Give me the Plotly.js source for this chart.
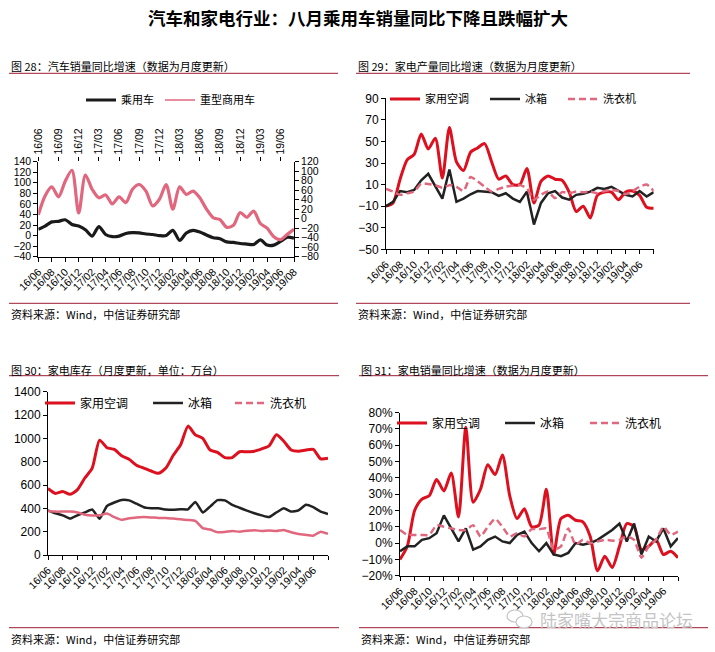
<!DOCTYPE html>
<html><head><meta charset="utf-8">
<script src="https://cdn.plot.ly/plotly-3.0.1.min.js"></script>
<style>html,body{margin:0;padding:0;background:#fff}#chart{width:715px;height:652px}</style>
</head><body><div id="chart"></div>
<script>
// ---------- data ----------
const months = ['16/06','16/07','16/08','16/09','16/10','16/11','16/12',
 '17/01','17/02','17/03','17/04','17/05','17/06','17/07','17/08','17/09','17/10','17/11','17/12',
 '18/01','18/02','18/03','18/04','18/05','18/06','18/07','18/08','18/09','18/10','18/11','18/12',
 '19/01','19/02','19/03','19/04','19/05','19/06','19/07','19/08'];

// Fig 28: auto sales yoy (%)
const passengerCar = [12,18,26,27,30,21,18,11,-1,17,2,-2,-1,4,5.5,5,3,2,0,0,10,-9,5,10,7,1,-4,-6,-12,-13,-15,-16,-17,-8,-18,-18,-11,-3,-5];
const heavyTruck   = [8,48,67,46,79,102,12,92,62,44,50,31,46,34,62,72,58,27,41,72,20,67,51,58,44,20,2,-2,-18,-14,13,3,16,-10,-20,-38,-44,-33,-22];

// Fig 29: appliance output yoy (%)
const acOutput     = [-10,-7,15,33,38,57,43,53,16,63,31,23,40,44,48,31,15,18,10,10,25,-7,13,18,15,14,3,-15,-10,-21,0,3,3,-4,3,4,0,-11,-12];
const fridgeOutput = [-10,-6,4,3,5,14,20,8,-3,24,-6,-3,1,4,3.5,3,-0.5,2,-3,-6,3.5,-27,-7,2,4,-2,-4,0.5,1.5,3.5,7,6,8,4,0.5,-1,4,-1,3];
const washerOutput = [6,3.5,0.5,2,3.5,11,10.5,9.5,7,9.5,8,4,17,13,8,3.5,6,8,9,9.5,6.5,-4,0.5,3.5,-2.5,3,2,3.5,3,3.5,2,4,5,4,1,4,8,10,4];

// Fig 30: appliance inventory (10k units)
const acStock      = [570,528,545,520,560,660,745,985,920,905,850,820,770,745,720,700,745,855,945,1105,1030,1000,900,880,835,835,885,885,890,910,935,1030,975,900,890,900,905,825,830];
const fridgeStock  = [383,357,340,312,340,365,390,310,420,450,472,468,440,410,400,400,390,388,392,392,455,365,415,470,468,430,405,380,358,340,325,365,400,372,383,430,410,372,352];
const washerStock  = [378,372,372,372,365,345,338,340,355,325,302,315,322,325,322,318,318,312,306,300,292,230,218,196,198,205,200,208,213,205,210,205,215,195,180,172,165,200,182];

// Fig 31: appliance sales yoy (%)
const acSales      = [-10,-2,20,27,29,39,32,43,16,71,25,33,48,42,54,29,15,21,10,11,33,-7,15,17,14,13,4,-17,-8,-15,-2,12,10,-4,-2,2,-7,-5,-9];
const fridgeSales  = [-5,-2,-2,2,3,6,17,9,1,9,-4,-2,2,4,1,0,5,7,0,-5,0,-7,-8,-6,0,-1,0,2,5,8,12,1,12,-7,4,1,9,-2,3];
const washerSales  = [8,5,5,5,5,11,10,9,8,8,11,4,10,15,10,4,6,4,8.5,8.5,9,-4,-2,9,-1,2,0,1,2,1.5,2,4,2,-9,-2,2,10,5,7];

const labelsEvery2 = months.filter((m,i)=>i%2===0);
const labelsEvery3 = months.filter((m,i)=>i%3===0);
const labelsEvery2NoLast = labelsEvery2.map((m,i)=> i===labelsEvery2.length-1 ? '' : m);

// ---------- styling ----------
const W=715, H=652;
const px = x => x/W, py = y => 1 - y/H;
const latin = 'Liberation Sans, Arial, sans-serif';
const cjk = 'Noto Sans CJK SC, Liberation Sans, sans-serif';
const xTickFont = {family: latin, size: 10.5, color: '#000'};
const yTickFont = {family: latin, size: 12, color: '#000'};
const smallYFont = {family: latin, size: 10.5, color: '#000'};
const RED = '#DC101E', BLACK = '#222222', PINK = '#E0677D', DARKRED = '#9E1B32';

function catX(domain, anchor, ticktext, extra) {
  return Object.assign({domain, anchor, type:'category', range:[0, months.length-1],
    tickmode:'array', tickvals: labelsEvery2, ticktext: ticktext, tickangle:-45,
    ticks:'outside', ticklen:4, tickcolor:'#000', showline:true, linecolor:'#000', linewidth:1,
    showgrid:false, zeroline:false, tickfont:xTickFont, fixedrange:true}, extra||{});
}
function valY(domain, anchor, range, tick0, dtick, extra) {
  return Object.assign({domain, anchor, range, tick0, dtick, tickmode:'linear',
    ticks:'outside', ticklen:4, tickcolor:'#000', showline:true, linecolor:'#000', linewidth:1,
    showgrid:false, zeroline:false, tickfont:yTickFont, fixedrange:true}, extra||{});
}
function leg(xpx, ypx, size) {
  return {x:px(xpx), y:py(ypx), xanchor:'left', yanchor:'middle', orientation:'h',
    bgcolor:'rgba(0,0,0,0)', borderwidth:0, itemwidth:30,
    font:{family:cjk, size:size||11, color:'#000'}};
}
function line(name, x, y, xa, ya, color, width, opts) {
  opts = opts||{};
  return {type:'scatter', mode:'lines', name, x, y, xaxis:xa, yaxis:ya,
    line:{color, width, shape: opts.shape||'spline', smoothing: opts.smoothing==null?0.8:opts.smoothing, dash: opts.dash||'solid'},
    legend: opts.legend, showlegend: opts.showlegend!==false, hoverinfo:'skip'};
}

const traces = [
  // Fig 28
  line('乘用车', months, passengerCar, 'x', 'y', '#1a1a1a', 3.2, {legend:'legend'}),
  line('重型商用车', months, heavyTruck, 'x2', 'y2', PINK, 3.2, {showlegend:false}),
  line('重型商用车', [null], [null], 'x2', 'y2', PINK, 1.5, {legend:'legend2'}),
  // Fig 29
  line('家用空调', months, acOutput, 'x3', 'y3', RED, 3, {legend:'legend3', smoothing:0.7}),
  line('冰箱', months, fridgeOutput, 'x3', 'y3', BLACK, 2.5, {legend:'legend4', shape:'linear'}),
  line('洗衣机', months, washerOutput, 'x3', 'y3', PINK, 2.5, {legend:'legend5', dash:'7px,4px', smoothing:0.6}),
  // Fig 30
  line('家用空调', months, acStock, 'x4', 'y4', RED, 3, {legend:'legend6', smoothing:0.6}),
  line('冰箱', months, fridgeStock, 'x4', 'y4', BLACK, 2.5, {legend:'legend7', smoothing:0.4}),
  line('洗衣机', months, washerStock, 'x4', 'y4', PINK, 2.5, {showlegend:false, smoothing:0.4}),
  line('洗衣机', [null], [null], 'x4', 'y4', PINK, 2.5, {legend:'legend8', dash:'7px,4px'}),
  // Fig 31
  line('家用空调', months, acSales, 'x5', 'y5', RED, 3, {legend:'legend9', smoothing:0.7}),
  line('冰箱', months, fridgeSales, 'x5', 'y5', BLACK, 2.5, {legend:'legend10', shape:'linear'}),
  line('洗衣机', months, washerSales, 'x5', 'y5', PINK, 2.5, {legend:'legend11', dash:'7px,4px', smoothing:0.5})
];

function ann(text, xpx, ypx, size, extra) {
  return Object.assign({text, xref:'paper', yref:'paper', x:px(xpx), y:py(ypx), xanchor:'left', yanchor:'middle',
    showarrow:false, font:{family:cjk, size:size||11, color:'#000'}}, extra||{});
}
function rule(x0, x1, ypx) {
  return {type:'line', xref:'paper', yref:'paper', x0:px(x0), x1:px(x1), y0:py(ypx), y1:py(ypx), line:{color:DARKRED, width:1}};
}

const layout = {
  width:W, height:H, margin:{l:0,r:0,t:0,b:0}, paper_bgcolor:'#fff', plot_bgcolor:'rgba(0,0,0,0)',
  showlegend:true, hovermode:false,
  // Fig 28
  xaxis: catX([px(38.3), px(294)], 'y', labelsEvery2),
  xaxis2: {overlaying:'x', side:'top', anchor:'y', type:'category', range:[0, months.length-1],
    tickmode:'array', tickvals: labelsEvery3, ticktext: labelsEvery3, tickangle:-90,
    ticks:'outside', ticklen:4, tickcolor:'#000', showline:false, showgrid:false, zeroline:false, tickfont:xTickFont, fixedrange:true},
  yaxis: valY([py(256.7), py(161.7)], 'x', [-40,140], 0, 20, {tickfont:smallYFont}),
  yaxis2: valY([py(256.7), py(161.7)], 'x', [-80,120], 0, 20, {overlaying:'y', side:'right', tickfont:smallYFont}),
  // Fig 29
  xaxis3: catX([px(386), px(653.7)], 'y3', labelsEvery2NoLast),
  yaxis3: valY([py(249.3), py(98.3)], 'x3', [-50,90], -50, 20),
  // Fig 30
  xaxis4: catX([px(48), px(328)], 'y4', labelsEvery2NoLast),
  yaxis4: valY([py(555), py(391.7)], 'x4', [0,1400], 0, 200),
  // Fig 31
  xaxis5: catX([px(400), px(678)], 'y5', labelsEvery2NoLast),
  yaxis5: valY([py(575.7), py(412.6)], 'x5', [-20,80], 0, 10, {ticksuffix:'%'}),
  legend: leg(81, 100), legend2: leg(160, 100),
  legend3: leg(385, 99), legend4: leg(485, 99), legend5: leg(563, 99),
  legend6: leg(40, 403, 12), legend7: leg(148, 403, 12), legend8: leg(230, 403, 12),
  legend9: leg(392, 423, 12), legend10: leg(500, 423, 12), legend11: leg(585, 423, 12),
  annotations: [
    ann('<b>汽车和家电行业：八月乘用车销量同比下降且跌幅扩大</b>', 357.5, 18, 17.5, {xanchor:'center'}),
    ann('图 28：汽车销量同比增速（数据为月度更新）', 9, 66),
    ann('图 29：家电产量同比增速（数据为月度更新）', 356, 66),
    ann('图 30：家电库存（月度更新，单位：万台）', 9, 370),
    ann('图 31：家电销量同比增速（数据为月度更新）', 359, 370),
    ann('资料来源：Wind，中信证券研究部', 9, 314),
    ann('资料来源：Wind，中信证券研究部', 356, 314),
    ann('资料来源：Wind，中信证券研究部', 9, 639),
    ann('资料来源：Wind，中信证券研究部', 359, 639),
    ann('陆家嘴大宗商品论坛', 538, 619, 17, {font:{family:cjk, size:17, color:'#c4c4c4'}})
  ],
  shapes: [
    rule(9, 338, 73.3), rule(356, 690, 73.3),
    rule(9, 338, 303.3), rule(356, 690, 303.3),
    rule(9, 339, 375.7), rule(359, 708, 375.7),
    rule(9, 339, 627.7), rule(359, 708, 627.7),
    {type:'circle', xref:'paper', yref:'paper', x0:px(507), x1:px(523), y0:py(622), y1:py(610), line:{color:'#c4c4c4', width:1.2}},
    {type:'circle', xref:'paper', yref:'paper', x0:px(516), x1:px(532), y0:py(628), y1:py(616), line:{color:'#c4c4c4', width:1.2}, fillcolor:'#fff'}
  ]
};

Plotly.newPlot('chart', traces, layout, {staticPlot:true, displayModeBar:false});
</script>
</body></html>
